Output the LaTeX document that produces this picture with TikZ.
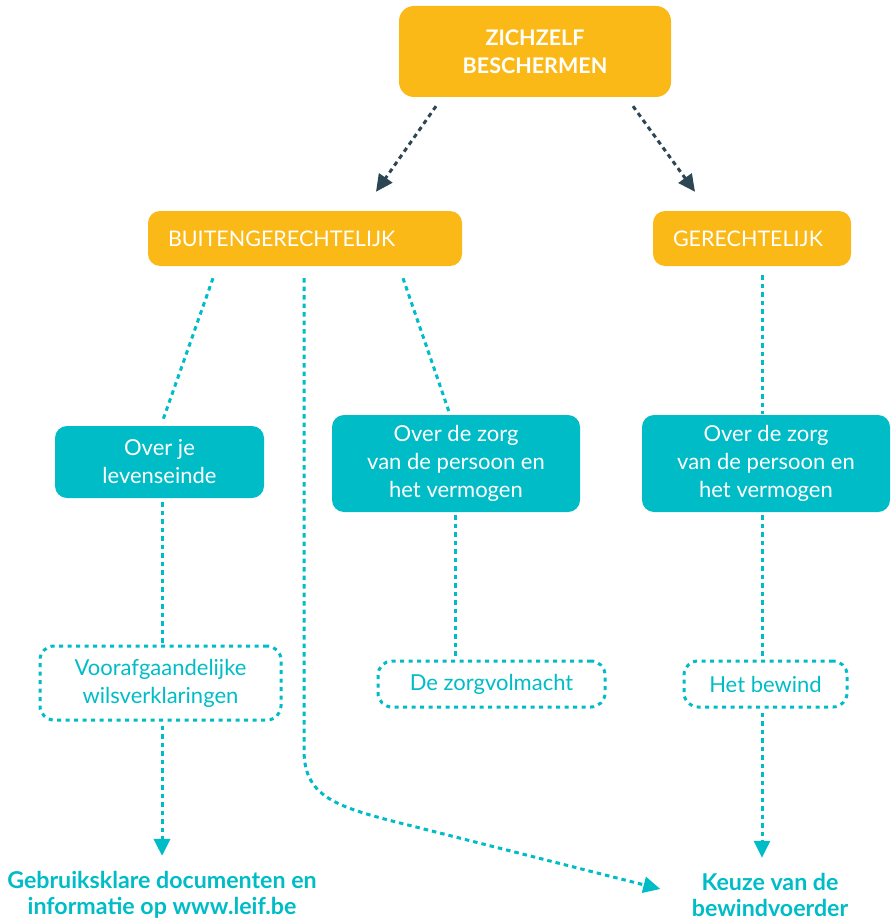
\documentclass[tikz,border=0pt]{standalone}
\usepackage{fontspec}
\setmainfont{Lato}
\usetikzlibrary{arrows.meta,calc}
\definecolor{geel}{RGB}{251,185,23}
\definecolor{blauw}{RGB}{0,188,199}
\definecolor{donker}{RGB}{44,70,84}
\tikzset{
  hoofd/.style={fill=geel,rounded corners=15pt,text=white,align=center,
    font=\bfseries\fontsize{21.5}{28}\selectfont,minimum width=272pt,minimum height=91pt},
  tak/.style={fill=geel,rounded corners=12pt,text=white,align=left,inner xsep=20pt,
    font=\fontsize{21.5}{28}\selectfont,minimum height=55pt},
  vak/.style={fill=blauw,rounded corners=12pt,text=white,align=center,
    font=\fontsize{22}{28}\selectfont},
  keuze/.style={draw=blauw,line width=3pt,dash pattern=on 4pt off 4.5pt,rounded corners=14pt,
    text=blauw,align=center,font=\fontsize{22}{28}\selectfont},
  eind/.style={text=blauw,align=center,font=\bfseries\fontsize{23.2}{26}\selectfont},
  lijn/.style={blauw,line width=3pt,dash pattern=on 4.5pt off 4pt},
  pijl/.style={lijn,-{Triangle[length=17pt,width=16pt]}},
  donkerpijl/.style={donker,line width=3pt,dash pattern=on 4.5pt off 4pt,
    -{Triangle[length=17pt,width=16pt]}}
}
\begin{document}
\begin{tikzpicture}[x=1pt,y=-1pt]
\useasboundingbox (0,0) rectangle (892,923);
% bovenste niveau
\node[hoofd] (zelf) at (535,51.5) {ZICHZELF\\BESCHERMEN};
\node[tak,text width=274pt] (buiten) at (305,238.5) {BUITENGERECHTELIJK};
\node[tak,text width=158pt] (gerecht) at (752,238.5) {GERECHTELIJK};
% vakken
\node[vak,minimum width=209pt,minimum height=72pt] (leven) at (159.5,462) {Over je\\levenseinde};
\node[vak,minimum width=248pt,minimum height=97pt] (zorga) at (456,463.5) {Over de zorg\\van de persoon en\\het vermogen};
\node[vak,minimum width=248pt,minimum height=97pt] (zorgb) at (766,463.5) {Over de zorg\\van de persoon en\\het vermogen};
% keuzes
\node[keuze,minimum width=241pt,minimum height=74pt] (wils) at (160.5,683) {Voorafgaandelijke\\wilsverklaringen};
\node[keuze,minimum width=227pt,minimum height=46pt] (volm) at (491.5,684) {De zorgvolmacht};
\node[keuze,minimum width=163pt,minimum height=46pt] (bewind) at (765.5,684) {Het bewind};
\node[eind] (docs) at (162,895) {Gebruiksklare documenten en\\informatie op www.leif.be};
\node[eind] (bewv) at (770,895) {Keuze van de\\bewindvoerder};
% verbindingen
\draw[donkerpijl] ($(zelf.south)+(-99,9)$) -- ($(buiten.north)+(71,-19)$);
\draw[donkerpijl] ($(zelf.south)+(98,9)$) -- ($(gerecht.north)+(-57,-19)$);
\draw[lijn] ($(buiten.south)+(-92,12)$) -- ($(leven.north)+(3.5,-6)$);
\draw[lijn] ($(buiten.south)+(98,12)$) -- ($(zorga.north)+(-7,-3)$);
\draw[pijl] ($(buiten.south)+(-1,12)$) -- (304,750)
  .. controls (304,800) and (340,808) .. (420,828) -- ($(bewv.west)+(-28,-6)$);
\draw[lijn] ($(gerecht.south)+(10,9)$) -- ($(zorgb.north)+(-4,-1)$);
\draw[lijn] ($(leven.south)+(2.5,4)$) -- ($(wils.north)+(1.5,-2)$);
\draw[pijl] ($(wils.south)+(1.5,4)$) -- ($(docs.north)+(0,-12)$);
\draw[lijn] (zorga.south) ++(-1,3) coordinate (za) -- (za |- volm.north);
\draw[lijn] ($(zorgb.south)+(-4,3)$) -- ($(bewind.north)+(-3.5,-2)$);
\draw[pijl] ($(bewind.south)+(-3.5,4)$) -- ($(bewv.north)+(-8,-12)$);
\end{tikzpicture}
\end{document}
